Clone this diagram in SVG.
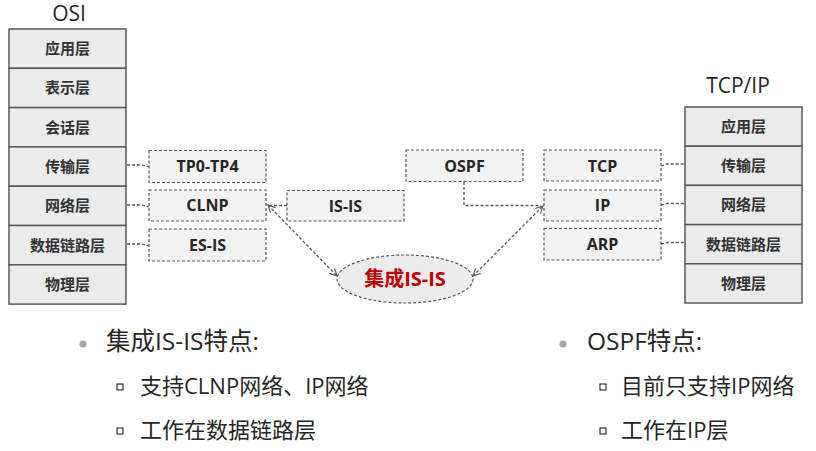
<svg xmlns="http://www.w3.org/2000/svg" width="816" height="451" viewBox="0 0 816 451">
<defs>
<style>
.layer{fill:#ebebeb;stroke:#595959;stroke-width:1.5}
.lt{font-family:"Open Sans","Noto Sans CJK SC",sans-serif;font-size:15px;font-weight:bold;fill:#333;text-anchor:middle}
.box{fill:#f2f2f2;stroke:#595959;stroke-width:1.2;stroke-dasharray:3 2}
.bt{font-family:"Open Sans","Noto Sans CJK SC",sans-serif;font-size:16px;font-weight:bold;fill:#262626;text-anchor:middle}
.title{font-family:"Open Sans","Noto Sans CJK SC",sans-serif;font-size:21px;fill:#262626;text-anchor:middle}
.con{fill:none;stroke:#595959;stroke-width:1.3;stroke-dasharray:3 2}
.h1{font-family:"Open Sans","Noto Sans CJK SC",sans-serif;font-size:24.5px;fill:#262626}
.h2{font-family:"Open Sans","Noto Sans CJK SC",sans-serif;font-size:22px;fill:#262626}
.sq{fill:none;stroke:#333;stroke-width:1.2}
</style>
<marker id="ah" viewBox="0 0 10 10" refX="9" refY="5" markerWidth="9" markerHeight="9" markerUnits="userSpaceOnUse" orient="auto-start-reverse">
<path d="M1,1 L9,5 L1,9" fill="none" stroke="#595959" stroke-width="1.3"/>
</marker>
</defs>
<rect width="816" height="451" fill="#fff"/>

<g id="osi">
<text class="title" x="69" y="21">OSI</text>
<rect class="layer" x="9" y="29" width="117" height="39.3"/>
<rect class="layer" x="9" y="68.3" width="117" height="39.3"/>
<rect class="layer" x="9" y="107.6" width="117" height="39.3"/>
<rect class="layer" x="9" y="146.9" width="117" height="39.3"/>
<rect class="layer" x="9" y="186.2" width="117" height="39.3"/>
<rect class="layer" x="9" y="225.5" width="117" height="39.3"/>
<rect class="layer" x="9" y="264.8" width="117" height="39.3"/>
<text class="lt" x="67.5" y="54">应用层</text>
<text class="lt" x="67.5" y="93.3">表示层</text>
<text class="lt" x="67.5" y="132.6">会话层</text>
<text class="lt" x="67.5" y="171.9">传输层</text>
<text class="lt" x="67.5" y="211.2">网络层</text>
<text class="lt" x="67.5" y="250.5">数据链路层</text>
<text class="lt" x="67.5" y="289.8">物理层</text>
</g>

<g id="tcpip">
<text class="title" x="738" y="93">TCP/IP</text>
<rect class="layer" x="685" y="107" width="117" height="39.2"/>
<rect class="layer" x="685" y="146.2" width="117" height="39.2"/>
<rect class="layer" x="685" y="185.4" width="117" height="39.2"/>
<rect class="layer" x="685" y="224.6" width="117" height="39.2"/>
<rect class="layer" x="685" y="263.8" width="117" height="39.2"/>
<text class="lt" x="743.5" y="132">应用层</text>
<text class="lt" x="743.5" y="171.2">传输层</text>
<text class="lt" x="743.5" y="210.4">网络层</text>
<text class="lt" x="743.5" y="249.6">数据链路层</text>
<text class="lt" x="743.5" y="288.8">物理层</text>
</g>

<g id="tp0tp4"><rect class="box" x="149" y="150.5" width="117" height="32"/><text class="bt" x="207.5" y="172">TP0-TP4</text></g>
<g id="clnp"><rect class="box" x="149" y="190" width="117" height="31"/><text class="bt" x="207.5" y="211">CLNP</text></g>
<g id="esis"><rect class="box" x="149" y="229" width="117" height="32"/><text class="bt" x="207.5" y="250.5">ES-IS</text></g>
<g id="isis"><rect class="box" x="287" y="190.5" width="117" height="30.5"/><text class="bt" x="345.5" y="211.5">IS-IS</text></g>
<g id="ospf"><rect class="box" x="406" y="150" width="117" height="31.5"/><text class="bt" x="464.5" y="171.5">OSPF</text></g>
<g id="tcp"><rect class="box" x="544" y="150" width="117" height="31"/><text class="bt" x="602.5" y="171.5">TCP</text></g>
<g id="ip"><rect class="box" x="544" y="190" width="117" height="31"/><text class="bt" x="602.5" y="211">IP</text></g>
<g id="arp"><rect class="box" x="544" y="228.5" width="117" height="31.5"/><text class="bt" x="602.5" y="250">ARP</text></g>
<g id="integrated-isis">
<ellipse cx="405" cy="279" rx="68" ry="24" fill="#ececec" stroke="#595959" stroke-width="1.2" stroke-dasharray="3 2"/>
<text x="405" y="286" font-family="'Open Sans','Noto Sans CJK SC',sans-serif" font-size="20" font-weight="bold" fill="#c00000" text-anchor="middle">集成IS-IS</text>
</g>

<g id="connectors">
<polyline class="con" points="127,165 142,165 149,167"/>
<polyline class="con" points="127,205 142,205 149,207"/>
<polyline class="con" points="127,244 142,244 149,246"/>
<polyline class="con" points="661,166 667,164 685,164"/>
<polyline class="con" points="661,205 667,203.5 685,203.5"/>
<polyline class="con" points="661,244 667,242.5 685,242.5"/>
<line class="con" x1="287" y1="205.5" x2="270" y2="205.5"/>
<polyline class="con" points="464,182 464,205.5 541,205.5"/>
<line class="con" x1="268" y1="205" x2="337" y2="276" marker-start="url(#ah)" marker-end="url(#ah)"/>
<line class="con" x1="473" y1="276" x2="543" y2="206" marker-start="url(#ah)" marker-end="url(#ah)"/>
</g>

<g id="notes">
<circle cx="83" cy="344" r="3.5" fill="#a6a6a6"/>
<text class="h1" x="106" y="350">集成IS-IS特点:</text>
<rect class="sq" x="117" y="384" width="6" height="6"/>
<text class="h2" x="140" y="394">支持CLNP网络、IP网络</text>
<rect class="sq" x="117" y="428" width="6" height="6"/>
<text class="h2" x="140" y="438">工作在数据链路层</text>
<circle cx="563" cy="344" r="3.5" fill="#a6a6a6"/>
<text class="h1" x="587" y="350">OSPF特点:</text>
<rect class="sq" x="600" y="384" width="6" height="6"/>
<text class="h2" x="621" y="394">目前只支持IP网络</text>
<rect class="sq" x="600" y="428" width="6" height="6"/>
<text class="h2" x="621" y="438">工作在IP层</text>
</g>
</svg>
